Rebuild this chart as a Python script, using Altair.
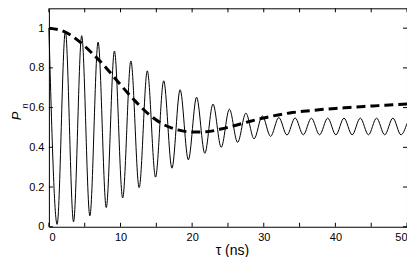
import altair as alt
import pandas as pd

# Solid oscillating curve: local maxima and minima
peak_t = [0.0, 2.3, 4.58, 6.87, 9.15, 11.45, 13.74, 16.03, 18.32, 20.62, 22.91,
          25.2, 27.5, 29.8, 32.1, 34.38, 36.65, 38.93, 41.2, 43.48, 45.75, 48.03]
peak_p = [1.0, 0.985, 0.962, 0.93, 0.885, 0.835, 0.785, 0.735, 0.69, 0.652, 0.618,
          0.592, 0.572, 0.558, 0.55, 0.548, 0.547, 0.547, 0.547, 0.547, 0.547, 0.547]
trough_t = [1.15, 3.44, 5.72, 8.01, 10.3, 12.6, 14.89, 17.18, 19.47, 21.77, 24.06,
            26.35, 28.65, 30.95, 33.24, 35.52, 37.79, 40.07, 42.34, 44.62, 46.89, 49.16]
trough_p = [0.012, 0.025, 0.055, 0.097, 0.145, 0.197, 0.25, 0.295, 0.337, 0.37, 0.40,
            0.425, 0.443, 0.455, 0.462, 0.463, 0.463, 0.463, 0.463, 0.463, 0.463, 0.463]
end_t = [50.0]
end_p = [0.52]

# Dashed envelope curve
dash_t = [0, 2, 4, 6, 8, 10, 12, 14, 16, 18, 20, 22, 24, 26, 28, 30, 32, 34, 36,
          38, 40, 42, 44, 46, 48, 50]
dash_p = [1.0, 0.985, 0.94, 0.875, 0.8, 0.715, 0.635, 0.565, 0.515, 0.488, 0.477,
          0.478, 0.492, 0.51, 0.53, 0.548, 0.563, 0.575, 0.583, 0.59, 0.596, 0.601,
          0.606, 0.61, 0.614, 0.618]

x_ticks = [0, 5, 10, 15, 20, 25, 30, 35, 40, 45, 50]
y_ticks = [0, 0.2, 0.4, 0.6, 0.8, 1.0]

W, H = 359, 219
FONT = "Liberation Sans"

solid_df = pd.DataFrame({
    "t": peak_t + trough_t + end_t,
    "p": peak_p + trough_p + end_p,
}).sort_values("t")
dash_df = pd.DataFrame({"t": dash_t, "p": dash_p})
xt_df = pd.DataFrame({"t": x_ticks})
yt_df = pd.DataFrame({"p": y_ticks})
one = pd.DataFrame({"a": [0]})

xs = alt.Scale(domain=[0, 50], nice=False, zero=False)
ys = alt.Scale(domain=[0, 1.1], nice=False, zero=False)

xaxis = alt.Axis(values=x_ticks, domain=False, ticks=False, grid=False, title=None,
                 labelPadding=5, labelFontSize=11, labelFont=FONT, labelColor="black",
                 format="d")
yaxis = alt.Axis(values=y_ticks, domain=False, ticks=False, grid=False, title=None,
                 labelPadding=5, labelFontSize=11, labelFont=FONT, labelColor="black",
                 format=".1~f")

solid = alt.Chart(solid_df).mark_line(
    color="black", strokeWidth=1, interpolate="monotone"
).encode(
    x=alt.X("t:Q", scale=xs, axis=xaxis),
    y=alt.Y("p:Q", scale=ys, axis=yaxis),
)

dashed = alt.Chart(dash_df).mark_line(
    color="black", strokeWidth=3, strokeDash=[9, 5], interpolate="monotone"
).encode(
    x=alt.X("t:Q", scale=xs),
    y=alt.Y("p:Q", scale=ys),
)

tb = alt.Chart(xt_df).mark_rule(color="black", strokeWidth=1).encode(
    x=alt.X("t:Q", scale=xs), y=alt.value(H), y2=alt.value(H - 4))
tt = alt.Chart(xt_df).mark_rule(color="black", strokeWidth=1).encode(
    x=alt.X("t:Q", scale=xs), y=alt.value(0), y2=alt.value(4))
tl = alt.Chart(yt_df).mark_rule(color="black", strokeWidth=1).encode(
    y=alt.Y("p:Q", scale=ys), x=alt.value(0), x2=alt.value(4))
tr = alt.Chart(yt_df).mark_rule(color="black", strokeWidth=1).encode(
    y=alt.Y("p:Q", scale=ys), x=alt.value(W - 4), x2=alt.value(W))

xtitle = alt.Chart(one).mark_text(
    font=FONT, fontSize=14, color="black", align="center", baseline="middle"
).encode(x=alt.value(184), y=alt.value(243), text=alt.value("τ  (ns)"))

ytitle = alt.Chart(one).mark_text(
    font=FONT, fontSize=13, fontStyle="italic", color="black", angle=270,
    align="center", baseline="middle"
).encode(x=alt.value(-32), y=alt.value(108), text=alt.value("P"))

ysub = alt.Chart(one).mark_text(
    font=FONT, fontSize=9, fontStyle="italic", color="black", angle=270,
    align="center", baseline="middle"
).encode(x=alt.value(-24), y=alt.value(98), text=alt.value("n"))

chart = alt.layer(solid, dashed, tb, tt, tl, tr, xtitle, ytitle, ysub).properties(
    width=W, height=H,
    autosize=alt.AutoSizeParams(type="none"),
    padding={"left": 41, "top": 0, "right": 0, "bottom": 30},
    background="white",
).configure_view(stroke="black", strokeWidth=1)

chart.save("out.html", embed_options={"renderer": "svg", "actions": False})
